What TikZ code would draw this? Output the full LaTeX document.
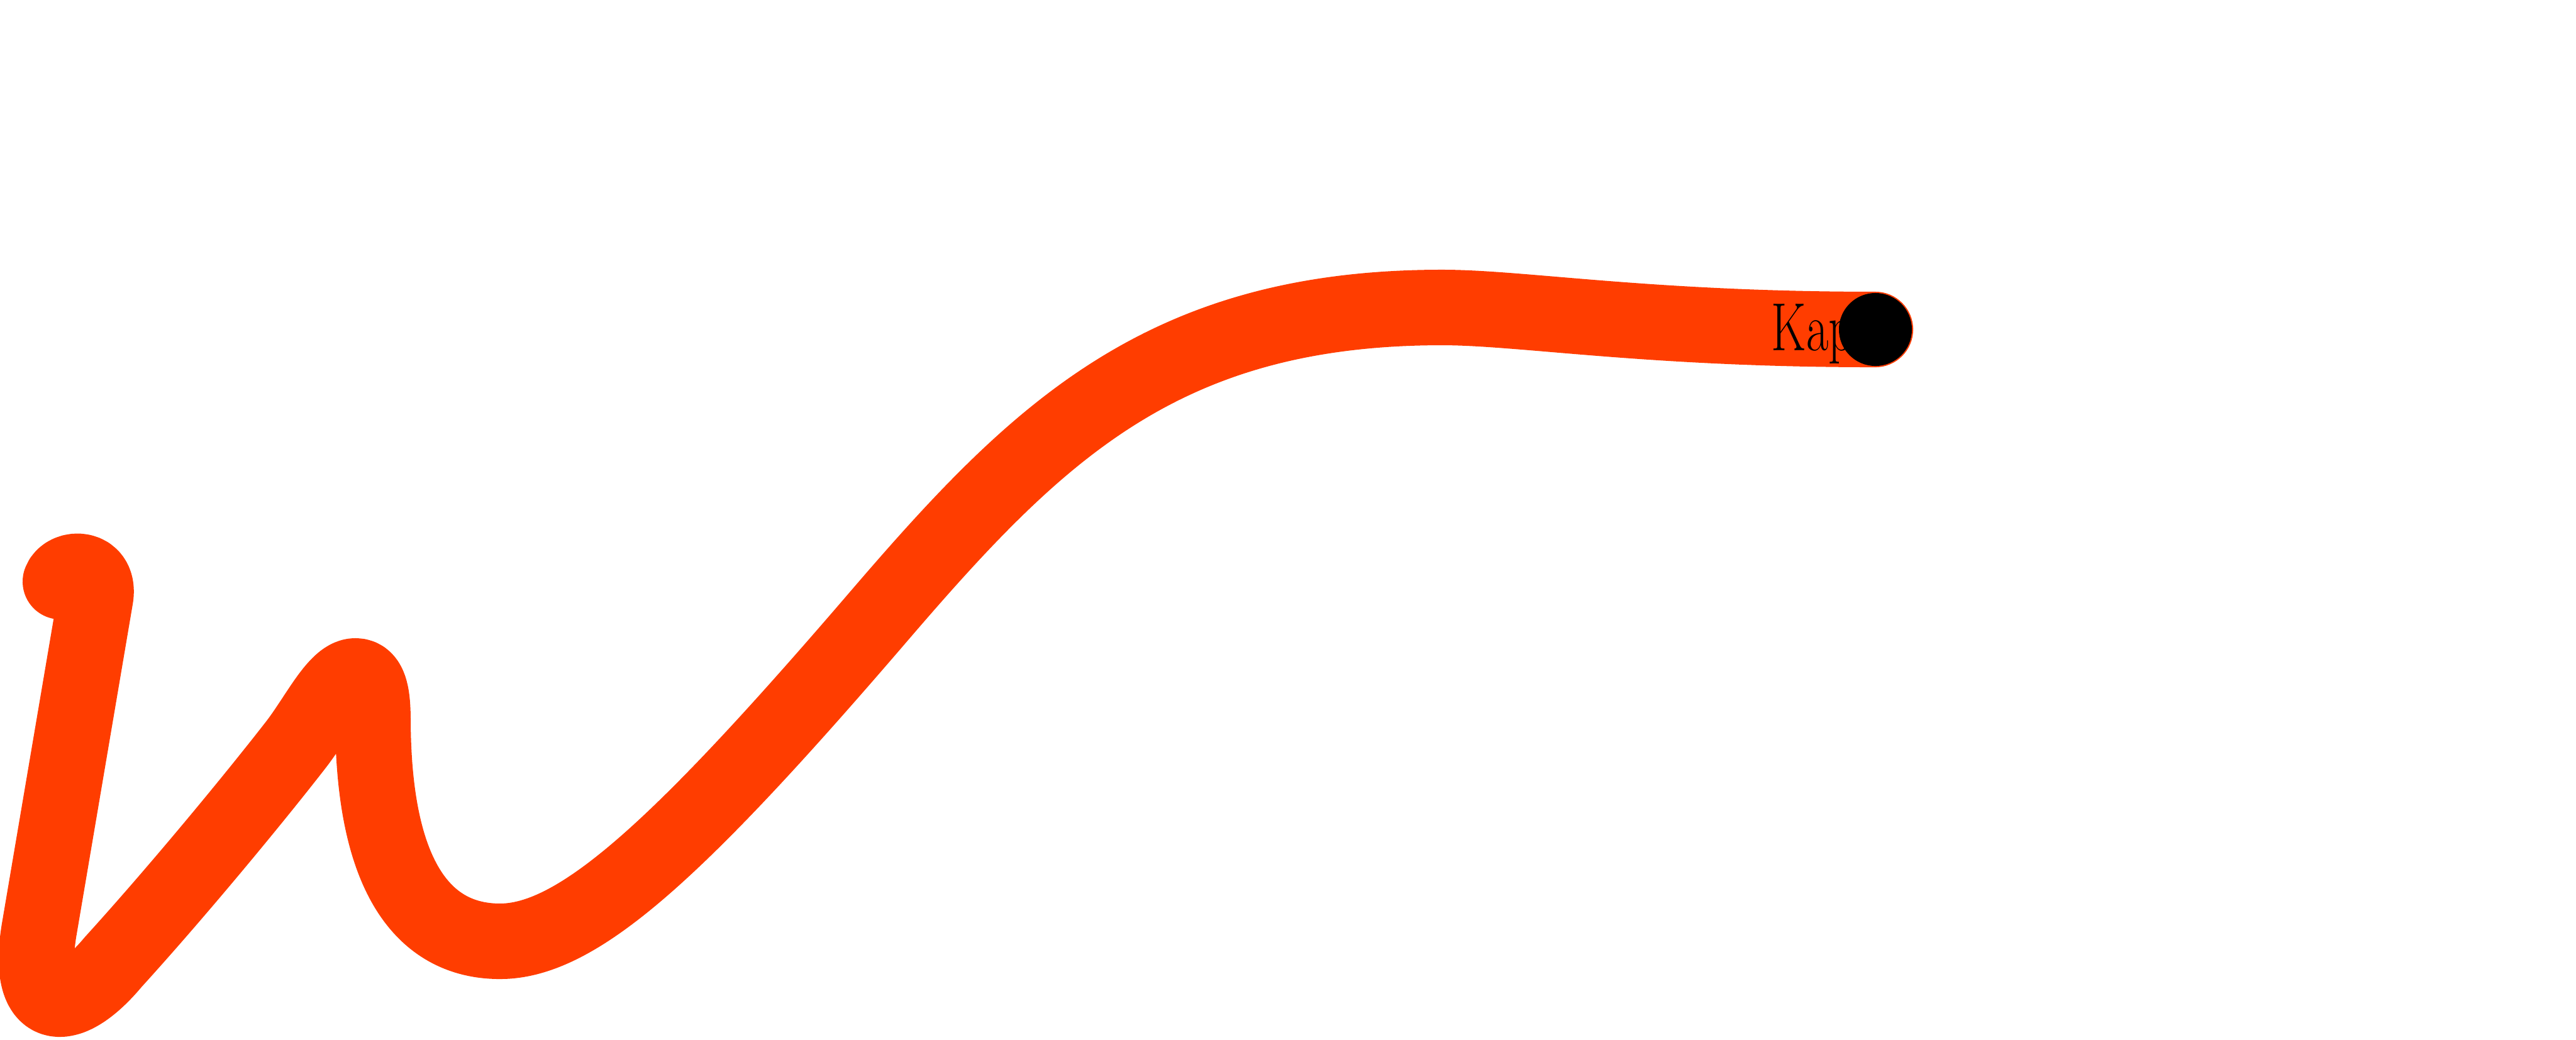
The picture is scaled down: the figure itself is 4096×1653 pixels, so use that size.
\documentclass[tikz,border=0pt]{standalone}
\usepackage{graphicx}
\definecolor{trail}{RGB}{255,61,0}
\begin{document}
\begin{tikzpicture}[x=0.01cm, y=-0.01cm,
  trailline/.style={draw=trail, line width=1.2cm, line cap=round, line join=round},
  enddot/.style={circle, fill=black, draw=none, inner sep=0pt, minimum size=1.16cm},
  lbltext/.style={anchor=base west, inner sep=0pt, text=black}]
\useasboundingbox (0,0) rectangle (4096,1653);
\coordinate (start) at (96,925);
\coordinate (endpt) at (2982,524);
\draw[trailline] (start) .. controls (105,900) and (160,900) .. (152,950)
  -- (62,1480)
  .. controls (41,1610) and (105,1620) .. (180,1530)
  .. controls (280,1420) and (400,1275) .. (470,1185)
  .. controls (505,1140) and (535,1075) .. (565,1075)
  .. controls (590,1075) and (593,1110) .. (593,1150)
  .. controls (595,1420) and (690,1497) .. (795,1497)
  .. controls (920,1497) and (1080,1350) .. (1400,977)
  .. controls (1650,686) and (1850,489) .. (2293,489)
  .. controls (2420,489) and (2620,524) .. (endpt);
\node[lbltext] (lbl) at (2816,557) {\scalebox{0.71}[1]{\fontsize{30.8}{36}\selectfont Kap}};
\node[enddot] (dot) at (endpt) {};
\end{tikzpicture}
\end{document}
